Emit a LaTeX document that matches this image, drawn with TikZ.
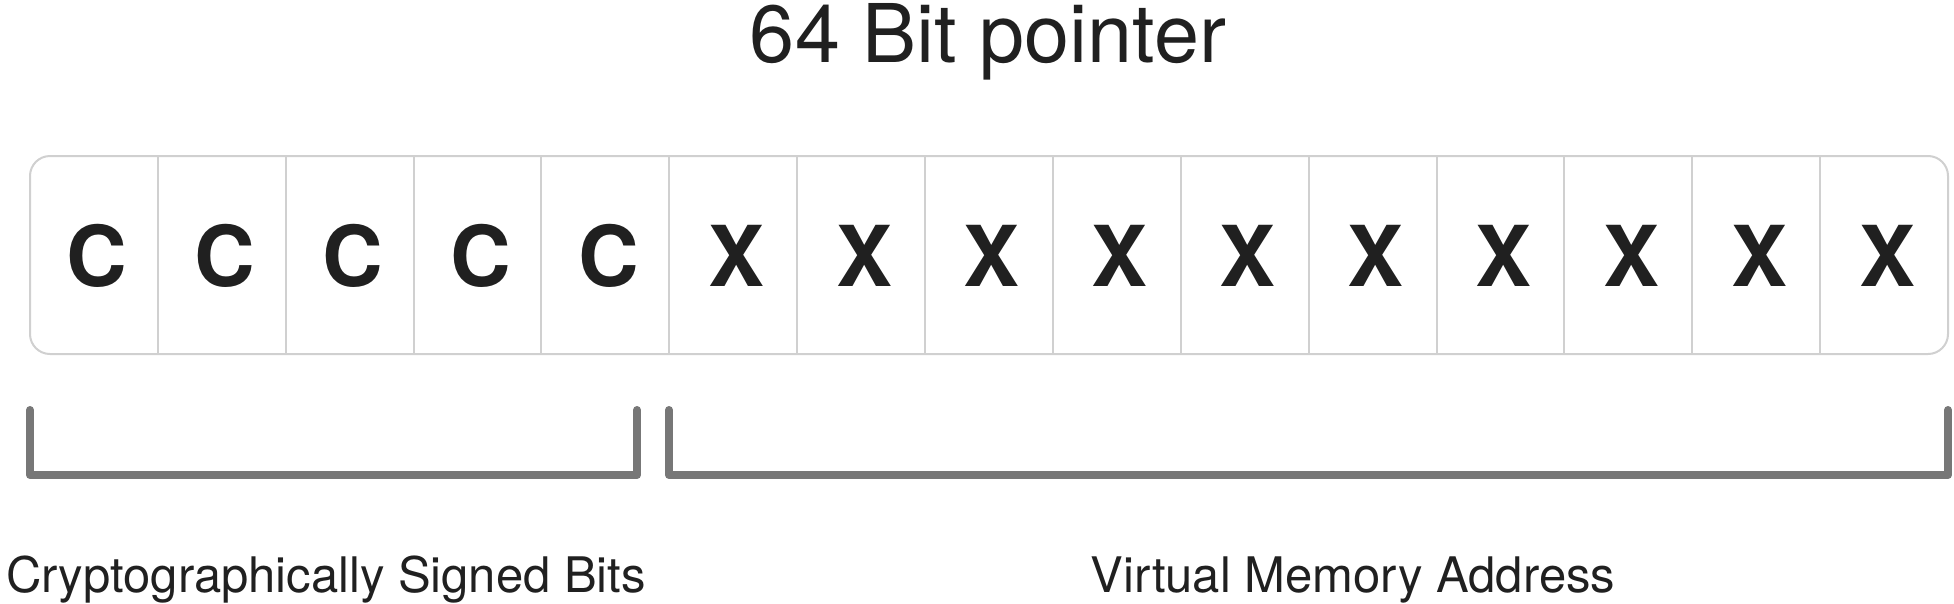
\documentclass[tikz,border=0pt]{standalone}
\usepackage{fontspec}
\setmainfont{TeX Gyre Heros}
\begin{document}
\begin{tikzpicture}[x=1pt,y=-1pt,
  txt/.style={inner sep=0pt, outer sep=0pt, text=ink},
  bitletter/.style={txt, anchor=base, font=\fontsize{84}{90}\selectfont\bfseries},
  cellline/.style={draw=boxgray, line width=2pt},
  bracketline/.style={draw=brgray, line width=8pt, line cap=round, line join=round}]
\definecolor{ink}{HTML}{202020}
\definecolor{boxgray}{HTML}{D0D0D0}
\definecolor{brgray}{HTML}{777777}
\useasboundingbox (0,0) rectangle (1954,603);
\pgfmathsetmacro{\cw}{(1948-30)/15}
% title
\node[txt, anchor=base, font=\fontsize{81}{90}\selectfont] (title) at (988,62) {64 Bit pointer};
% outer box
\node[draw=boxgray, line width=2pt, rounded corners=20pt, minimum width=1918pt, minimum height=198pt, inner sep=0pt, outer sep=0pt] (ptr) at (989,255) {};
% dividers
\foreach \i in {1,...,14}{
  \draw[cellline] (30+\i*\cw,156) -- (30+\i*\cw,354);
}
% letters
\foreach \i in {1,...,5}{
  \node[bitletter] (c\i) at (30+\i*\cw-0.5*\cw+3,286) {C};
}
\foreach \i in {6,...,15}{
  \node[bitletter] (x\i) at (30+\i*\cw-0.5*\cw+3,286) {X};
}
% brackets
\coordinate (la) at (30,410);
\coordinate (lb) at (30,475);
\coordinate (lc) at (637,475);
\coordinate (ld) at (637,410);
\coordinate (ra) at (669,410);
\coordinate (rb) at (669,475);
\coordinate (rc) at (1948,475);
\coordinate (rd) at (1948,410);
\draw[bracketline] (la) -- (lb) -- (lc) -- (ld);
\draw[bracketline] (ra) -- (rb) -- (rc) -- (rd);
% labels
\node[txt, anchor=base, font=\fontsize{49}{56}\selectfont] (lcap) at (326,592) {Cryptographically Signed Bits};
\node[txt, anchor=base, font=\fontsize{49}{56}\selectfont] (rcap) at (1353,592) {Virtual Memory Address};
\end{tikzpicture}
\end{document}
